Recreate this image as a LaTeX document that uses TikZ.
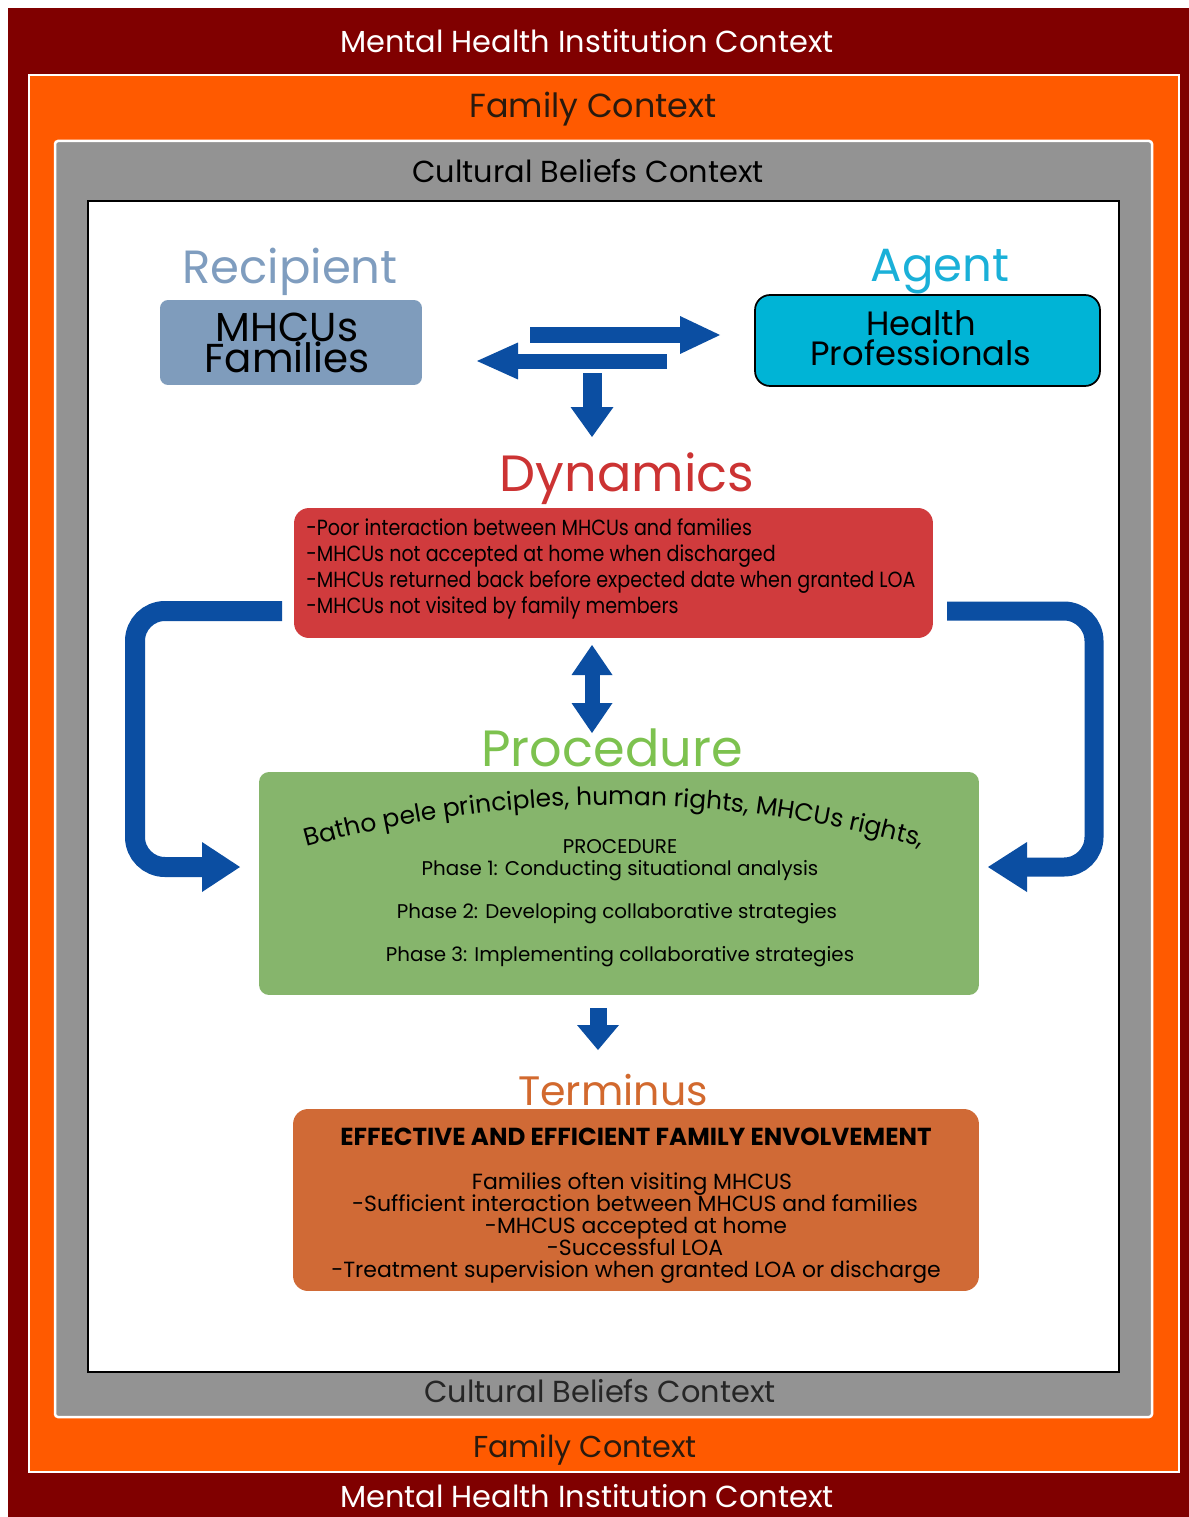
\documentclass[tikz,border=0pt]{standalone}
\usepackage{fontspec}
\setmainfont{Poppins}
\newfontfamily\narrowfont[FakeStretch=0.87]{Poppins}
\usetikzlibrary{arrows.meta,decorations.text}
\definecolor{mhi}{HTML}{800000}
\definecolor{fam}{HTML}{FF5A00}
\definecolor{cult}{HTML}{939393}
\definecolor{famtext}{HTML}{2A1A0E}
\definecolor{recip}{HTML}{7F9DBF}
\definecolor{recipbox}{HTML}{7F9CBC}
\definecolor{agent}{HTML}{1AB0D8}
\definecolor{agentbox}{HTML}{00B4D6}
\definecolor{arrowblue}{HTML}{0B4EA2}
\definecolor{dyn}{HTML}{CC3333}
\definecolor{dynbox}{HTML}{D03B3D}
\definecolor{proc}{HTML}{7DC24F}
\definecolor{procbox}{HTML}{86B56C}
\definecolor{term}{HTML}{D2692E}
\definecolor{termbox}{HTML}{D06A36}
\newcommand{\fsz}[2]{\fontsize{#1}{#2}\selectfont}
\tikzset{
  ctxlabel/.style={inner sep=0pt, font=\fsz{17.3}{19}},
  titlelabel/.style={inner sep=0pt, font=\fsz{26.5}{28}},
  bigtitle/.style={inner sep=0pt, font=\fsz{29}{31}},
  boxnode/.style={inner sep=0pt, rounded corners=0.25cm},
  blockarrow/.style={draw=arrowblue, line join=miter, line cap=butt},
  loopbody/.style={blockarrow, rounded corners=0.6cm},
  boxtext/.style={inner sep=0pt, text=black, text height=1.55ex, text depth=0.45ex, yshift=-0.055cm},
  dynline/.style={boxtext, anchor=west, font=\narrowfont\fsz{12.5}{14}},
  procline/.style={boxtext, font=\fsz{11.3}{13}},
  termline/.style={boxtext, font=\fsz{12.5}{13}}
}
\begin{document}
\begin{tikzpicture}[x={(0.02cm,0)}, y={(0,-0.02cm)}]
\useasboundingbox (0,0) rectangle (1189,1517);
\fill[white] (0,0) rectangle (1189,1517);
% context frames
\fill[mhi] (8,8) rectangle (1189,1517);
\filldraw[fill=fam, draw=white, line width=0.03cm] (29,75) rectangle (1179,1472);
\filldraw[fill=cult, draw=white, line width=0.05cm, rounded corners=0.06cm] (55,141) rectangle (1152,1417);
\filldraw[fill=white, draw=black, line width=0.05cm] (88,201) rectangle (1119,1372);

\node[ctxlabel, text=white] (mhitop) at (587,41) {Mental Health Institution Context};
\node[ctxlabel, text=white] (mhibot) at (587,1496) {Mental Health Institution Context};
\node[ctxlabel, font=\fsz{19}{21}, text=famtext] (famtop) at (593,109) {Family Context};
\node[ctxlabel, font=\fsz{17.2}{19}, text=famtext] (fambot) at (585,1450) {Family Context};
\node[ctxlabel, text=black] (culttop) at (588,171) {Cultural Beliefs Context};
\node[ctxlabel, text=black!85] (cultbot) at (600,1391) {Cultural Beliefs Context};

% recipient / agent
\node[titlelabel, text=recip] (reciptitle) at (290,272) {Recipient};
\node[boxnode, fill=recipbox, rounded corners=0.16cm, minimum width=5.24cm, minimum height=1.7cm] (recipbox) at (291,342.5) {};
\node[inner sep=0pt, align=center, font=\fsz{23}{18}] (reciptext) at (287,343) {MHCUs\\Families};
\node[titlelabel, text=agent] (agenttitle) at (940,272) {Agent};
\node[boxnode, fill=agentbox, draw=black, line width=0.035cm, rounded corners=0.3cm, minimum width=6.9cm, minimum height=1.82cm] (agentbox) at (927.5,340.5) {};
\node[inner sep=0pt, align=center, font=\fsz{19.2}{17}] (agenttext) at (921,338) {Health\\Professionals};

% exchange arrows
\coordinate (rA) at (530,335); \coordinate (rB) at (720,335);
\coordinate (lA) at (667,361); \coordinate (lB) at (477,361);
\coordinate (dA) at (592,373); \coordinate (dB) at (592,437);
\draw[blockarrow, line width=0.32cm, -{Triangle[length=0.8cm, width=0.76cm, line width=0pt]}] (rA) -- (rB);
\draw[blockarrow, line width=0.3cm, -{Triangle[length=0.82cm, width=0.74cm, line width=0pt]}] (lA) -- (lB);
\draw[blockarrow, line width=0.38cm, -{Triangle[length=0.6cm, width=0.86cm, line width=0pt]}] (dA) -- (dB);

% dynamics
\node[bigtitle, text=dyn] (dyntitle) at (627,479) {Dynamics};
\node[boxnode, fill=dynbox, rounded corners=0.3cm, minimum width=12.78cm, minimum height=2.6cm] (dynbox) at (613.5,573) {};
\node[dynline] (dyn1) at (306,527) {-Poor interaction between MHCUs and families};
\node[dynline] (dyn2) at (306,553) {-MHCUs not accepted at home when discharged};
\node[dynline] (dyn3) at (306,579) {-MHCUs returned back before expected date when granted LOA};
\node[dynline] (dyn4) at (306,605) {-MHCUs not visited by family members};

% double arrow
\coordinate (uA) at (592,645); \coordinate (uB) at (592,733);
\draw[blockarrow, line width=0.3cm, {Triangle[length=0.6cm, width=0.82cm, line width=0pt]}-{Triangle[length=0.6cm, width=0.82cm, line width=0pt]}] (uA) -- (uB);

% procedure
\node[bigtitle, text=proc] (proctitle) at (612,748) {Procedure};
\node[boxnode, fill=procbox, rounded corners=0.2cm, minimum width=14.4cm, minimum height=4.46cm] (procbox) at (619,883.5) {};
\path[decorate, decoration={text along path, text align=center, text={|\fsz{14.2}{15}|Batho pele principles, human rights, MHCUs rights,}}] (296,850) .. controls (508,790) and (720,790) .. (932,850);
\node[procline] (procword) at (620,845) {PROCEDURE};
\node[procline] (phase1) at (620,867) {Phase 1: Conducting situational analysis};
\node[procline] (phase2) at (617,910) {Phase 2: Developing collaborative strategies};
\node[procline] (phase3) at (620,953) {Phase 3: Implementing collaborative strategies};

% loop arrows
\coordinate (llA) at (282,611); \coordinate (llB) at (240,867);
\coordinate (rlA) at (947,611); \coordinate (rlB) at (988,867);
\draw[loopbody, line width=0.4cm, -{Triangle[length=0.76cm, width=1.0cm, line width=0pt]}] (llA) -- (135,611) -- (135,867) -- (llB);
\draw[loopbody, line width=0.38cm, -{Triangle[length=0.78cm, width=1.0cm, line width=0pt]}] (rlA) -- (1094,611) -- (1094,867) -- (rlB);

% to terminus
\coordinate (tA) at (598,1008); \coordinate (tB) at (598,1050);
\draw[blockarrow, line width=0.34cm, -{Triangle[length=0.5cm, width=0.84cm, line width=0pt]}] (tA) -- (tB);

% terminus
\node[inner sep=0pt, text=term, font=\fsz{23.4}{25}] (termtitle) at (613,1090) {Terminus};
\node[boxnode, fill=termbox, rounded corners=0.3cm, minimum width=13.72cm, minimum height=3.64cm] (termbox) at (636,1200) {};
\node[boxtext, font=\bfseries\fsz{14}{15}] (termhead) at (636,1137) {EFFECTIVE AND EFFICIENT FAMILY ENVOLVEMENT};
\node[termline] (term1) at (632,1181) {Families often visiting MHCUS};
\node[termline] (term2) at (635,1203) {-Sufficient interaction between MHCUS and families};
\node[termline] (term3) at (636,1225) {-MHCUS accepted at home};
\node[termline] (term4) at (635,1247) {-Successful LOA};
\node[termline] (term5) at (636,1269) {-Treatment supervision when granted LOA or discharge};
\end{tikzpicture}
\end{document}
